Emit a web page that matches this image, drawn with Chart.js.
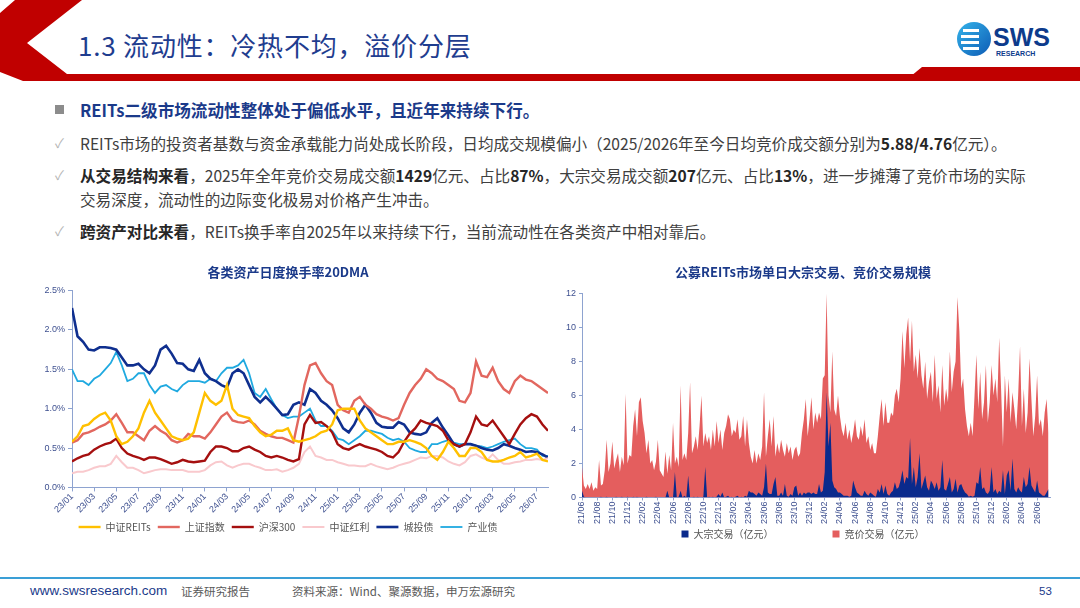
<!DOCTYPE html>
<html lang="zh-CN">
<head>
<meta charset="utf-8">
<title>1.3 流动性：冷热不均，溢价分层</title>
<script src="https://cdn.jsdelivr.net/npm/chart.js@4.4.1/dist/chart.umd.min.js"></script>
<style>
  html, body { margin: 0; padding: 0; background: #fff; }
  body { width: 1080px; height: 608px; position: relative; overflow: hidden;
         font-family: "Noto Sans CJK SC", "Noto Sans", sans-serif; }
  .abs { position: absolute; }
  .title { left: 78px; top: 26px; font-size: 26px; letter-spacing: 0.8px; color: #1f3d8f; white-space: nowrap; }
  .point { left: 80px; font-size: 15.6px; color: #404040; white-space: nowrap; line-height: 24px; }
  .point b { color: #262626; }
  .lead { color: #1b3a8a; font-weight: bold; font-size: 16.6px; }
  .mark { left: 55px; color: #b5b5b5; font-size: 13px; line-height: 24px; }
  .sq { left: 55px; top: 105px; width: 9px; height: 9px; background: #8c8c8c; }
  .chart-box { position: absolute; }
  .footline { left: 0; top: 577px; width: 1080px; height: 2px; background: #3a9fd6; }
  .foot { top: 583px; font-size: 11.5px; line-height: 16px; white-space: nowrap; }
</style>
</head>
<body>

<svg class="abs" style="left:0;top:0" width="1080" height="90">
  <polygon points="15,0 82,0 27,43 67,74 1080,74 1080,81 23,81 0,72 0,13" fill="#c00000"/>
  <polygon points="905,81 922,67 1080,67 1080,81" fill="#c00000"/>
</svg>
<div class="abs title">1.3 流动性：冷热不均，溢价分层</div>

<svg class="abs" style="left:955px;top:20px" width="110" height="40">
  <defs>
    <linearGradient id="lg" x1="0" y1="0" x2="1" y2="1">
      <stop offset="0" stop-color="#35b4ea"/>
      <stop offset="1" stop-color="#0d5bb5"/>
    </linearGradient>
  </defs>
  <circle cx="19" cy="19" r="17" fill="url(#lg)"/>
  <rect x="8" y="9" width="16" height="3" fill="#fff"/>
  <rect x="6" y="15" width="18" height="3" fill="#fff"/>
  <rect x="6" y="21" width="18" height="3" fill="#fff"/>
  <rect x="8" y="27" width="16" height="3" fill="#fff"/>
  <text x="38" y="26" font-family="Liberation Sans, Arial, sans-serif" font-weight="bold" font-size="25" fill="#0d3b8c">SWS</text>
  <text x="41" y="36" font-family="Liberation Sans, Arial, sans-serif" font-weight="bold" font-size="7" fill="#0d3b8c">RESEARCH</text>
</svg>

<div class="abs sq"></div>
<div class="abs point lead" style="top:98px">REITs二级市场流动性整体处于偏低水平，且近年来持续下行。</div>

<div class="abs mark" style="top:131px">✓</div>
<div class="abs point" style="top:131px">REITs市场的投资者基数与资金承载能力尚处成长阶段，日均成交规模偏小（2025/2026年至今日均竞价成交额分别为<b>5.88/4.76</b>亿元）。</div>

<div class="abs mark" style="top:163px">✓</div>
<div class="abs point" style="top:163px"><b>从交易结构来看</b>，2025年全年竞价交易成交额<b>1429</b>亿元、占比<b>87%</b>，大宗交易成交额<b>207</b>亿元、占比<b>13%</b>，进一步摊薄了竞价市场的实际</div>
<div class="abs point" style="top:187px">交易深度，流动性的边际变化极易对价格产生冲击。</div>

<div class="abs mark" style="top:219px">✓</div>
<div class="abs point" style="top:219px"><b>跨资产对比来看</b>，REITs换手率自2025年以来持续下行，当前流动性在各类资产中相对靠后。</div>

<div class="chart-box" style="left:28px;top:262px;width:528px;height:280px"><canvas id="turnoverChart"></canvas></div>
<div class="chart-box" style="left:556px;top:262px;width:512px;height:287px"><canvas id="tradeChart"></canvas></div>

<div class="abs footline"></div>
<div class="abs foot" style="left:30px;color:#1b3a8a;font-family:'Liberation Sans',sans-serif;font-size:13.5px">www.swsresearch.com</div>
<div class="abs foot" style="left:181px;color:#595959">证券研究报告</div>
<div class="abs foot" style="left:292px;color:#595959">资料来源：Wind、聚源数据，申万宏源研究</div>
<div class="abs foot" style="left:1039px;color:#1b3a8a;font-family:'Liberation Sans',sans-serif">53</div>

<script>
// ---- 各类资产日度换手率20DMA (%, every half month from 23/01) ----
const turnoverTicks = ['23/01','23/03','23/05','23/07','23/09','23/11','24/01','24/03','24/05','24/07','24/09',
  '24/11','25/01','25/03','25/05','25/07','25/09','25/11','26/01','26/03','26/05','26/07'];

const reitsIdx = [0.58,0.65,0.78,0.8,0.87,0.92,0.95,0.85,0.65,0.55,
  0.58,0.65,0.75,0.95,1.1,0.95,0.85,0.75,0.65,0.62,
  0.6,0.62,0.7,0.95,1.2,1.1,1.05,1.1,1.3,1.0,
  0.92,0.9,0.88,0.78,0.7,0.65,0.67,0.72,0.72,0.75,
  0.6,0.58,0.6,0.62,0.65,0.7,0.72,0.8,0.98,1.0,
  1.0,1.0,0.85,0.75,0.7,0.65,0.6,0.55,0.55,0.58,
  0.58,0.6,0.58,0.55,0.5,0.4,0.35,0.45,0.58,0.5,
  0.4,0.4,0.5,0.5,0.45,0.35,0.33,0.33,0.35,0.38,
  0.4,0.45,0.38,0.4,0.43,0.35,0.33];
const sseIdx = [0.57,0.6,0.68,0.7,0.73,0.77,0.8,0.85,0.93,0.82,
  0.7,0.7,0.65,0.6,0.72,0.78,0.72,0.68,0.6,0.57,
  0.6,0.68,0.65,0.65,0.62,0.7,0.8,0.9,0.95,0.85,
  0.83,0.82,0.85,0.8,0.72,0.68,0.65,0.63,0.63,0.6,
  0.57,0.9,1.3,1.55,1.58,1.45,1.35,1.3,1.05,0.98,
  0.95,1.1,1.15,1.05,1.0,0.93,0.9,0.88,0.85,0.88,
  1.05,1.2,1.3,1.38,1.5,1.45,1.38,1.35,1.3,1.25,
  1.1,1.08,1.2,1.6,1.42,1.4,1.52,1.35,1.25,1.2,
  1.35,1.42,1.37,1.35,1.3,1.25,1.2];
const hs300 = [0.33,0.37,0.4,0.42,0.48,0.52,0.55,0.57,0.62,0.5,
  0.43,0.4,0.38,0.35,0.38,0.38,0.36,0.33,0.3,0.32,
  0.35,0.33,0.32,0.33,0.34,0.45,0.52,0.52,0.5,0.46,
  0.46,0.5,0.52,0.48,0.45,0.4,0.38,0.4,0.38,0.35,
  0.33,0.36,0.8,0.92,0.82,0.83,0.78,0.7,0.55,0.5,
  0.48,0.52,0.55,0.52,0.5,0.48,0.45,0.4,0.38,0.45,
  0.58,0.68,0.75,0.85,0.82,0.8,0.78,0.72,0.6,0.55,
  0.52,0.55,0.7,0.9,0.8,0.78,0.85,0.75,0.65,0.55,
  0.68,0.8,0.88,0.93,0.9,0.8,0.72];
const dividendIdx = [0.18,0.2,0.2,0.22,0.25,0.27,0.27,0.3,0.4,0.32,
  0.25,0.25,0.22,0.18,0.2,0.22,0.23,0.23,0.22,0.22,
  0.22,0.2,0.2,0.2,0.22,0.28,0.32,0.33,0.28,0.25,
  0.28,0.3,0.3,0.27,0.25,0.22,0.22,0.23,0.2,0.22,
  0.25,0.3,0.45,0.52,0.4,0.38,0.35,0.35,0.32,0.3,
  0.28,0.28,0.27,0.27,0.3,0.27,0.25,0.23,0.25,0.28,
  0.3,0.32,0.35,0.38,0.37,0.4,0.4,0.38,0.33,0.3,
  0.28,0.32,0.4,0.42,0.38,0.35,0.42,0.35,0.3,0.3,
  0.32,0.33,0.35,0.35,0.36,0.35,0.37];
const lgfvBond = [2.28,1.92,1.85,1.75,1.74,1.78,1.78,1.77,1.75,1.65,
  1.55,1.55,1.57,1.5,1.45,1.55,1.75,1.8,1.7,1.58,
  1.57,1.5,1.48,1.62,1.45,1.38,1.35,1.3,1.27,1.45,
  1.5,1.45,1.3,1.15,1.08,1.15,1.08,1.0,0.92,0.93,
  1.05,1.08,1.05,1.25,1.2,1.1,1.05,0.98,0.88,0.75,
  0.7,0.8,0.95,1.05,0.95,0.82,0.77,0.76,0.76,0.83,
  0.8,0.7,0.68,0.67,0.7,0.82,0.88,0.76,0.66,0.55,
  0.52,0.55,0.55,0.53,0.5,0.48,0.47,0.5,0.55,0.53,
  0.5,0.48,0.45,0.46,0.45,0.42,0.38];
const industrialBond = [1.5,1.35,1.35,1.3,1.38,1.42,1.5,1.58,1.72,1.55,
  1.35,1.38,1.45,1.45,1.3,1.2,1.28,1.3,1.25,1.22,
  1.3,1.35,1.35,1.35,1.33,1.38,1.35,1.45,1.52,1.52,
  1.55,1.62,1.45,1.2,1.15,1.25,1.12,1.0,0.92,0.88,
  0.9,0.9,0.95,1.0,0.85,0.78,0.78,0.72,0.62,0.6,
  0.55,0.6,0.65,0.72,0.72,0.7,0.68,0.63,0.6,0.62,
  0.58,0.5,0.47,0.45,0.45,0.55,0.55,0.58,0.6,0.57,
  0.55,0.55,0.55,0.53,0.52,0.5,0.52,0.55,0.58,0.6,
  0.62,0.55,0.5,0.5,0.48,0.4,0.4];

// ---- 公募REITs单日大宗/竞价交易 (亿元, four points per month from 21/06) ----
const tradeTicks = ['21/06','21/08','21/10','21/12','22/02','22/04','22/06','22/08','22/10','22/12',
  '23/02','23/04','23/06','23/08','23/10','23/12','24/02','24/04','24/06','24/08','24/10','24/12',
  '25/02','25/04','25/06','25/08','25/10','25/12','26/02','26/04','26/06'];

const blockTrade = [
  0.4,0.05,0,0, 0,0,0,0, 0,0,0.05,0, 0,0.05,0,0, 0,0,0.05,0, 0,0.05,0,0, 0.05,0,0,0.05,
  0,0.05,0,0, 0,0,0.05,0, 0,0,0,0.05, 0,0,0,0, 0,0.4,0,0.05, 0,1.5,0,0.05, 0.4,0,0.1,0,
  1.3,0,0,0.05, 0,0.05,0,0, 0.05,1.8,0,0.05, 0,0.05,0,0.05, 0.2,0.05,0.3,0, 0.05,0.1,0,0.05,
  0,0.05,0.1,0, 0.05,0,0.1,0.05, 0.4,0.3,0.3,0.2, 0.1,0.3,0.2,0.1, 0.6,2.0,0.3,0.2, 0.2,0.8,1.2,0.1,
  0.1,0.3,0.1,0.8, 0.1,0.05,0.2,0.1, 0.6,0.7,0.1,0.3, 0.1,0.3,0.2,0.3, 0.3,0.2,0.3,0.2, 0.2,0.8,0.3,0.4,
  1.5,6.2,3.0,4.4, 1.0,0.6,0.5,0.3, 0.3,0.2,0.1,0.1, 0.1,0.05,0.1,1.0, 0.6,0.3,0.2,0.1, 0.1,0.4,0.2,0.1,
  0.3,0.2,0.1,0.05, 0.5,0.3,0.8,0.2, 0.7,0.2,0.1,0.3, 0.4,0.9,0.5,0.6, 1.0,1.6,0.8,1.2, 1.1,3.5,0.8,1.8,
  0.6,1.2,2.6,0.5, 0.9,1.3,0.6,0.4, 1.0,0.8,0.5,0.9, 0.4,0.6,2.2,0.5, 0.4,0.8,1.2,0.3, 0.5,1.1,0.3,0.7,
  0.8,0.5,0.3,0.2, 0.05,0.1,0.05,0.1, 0.9,0.8,1.8,0.5, 0.6,0.3,0.2,0.4, 1.8,0.3,0.5,0.2, 0.4,0.3,1.6,0.2,
  1.3,1.6,0.4,2.3, 0.5,0.3,0.6,0.4, 0.3,1.2,0.6,0.8, 1.8,0.7,0.5,0.3, 1.0,0.3,0.2,0.1, 0.1,0.3,0.5];
const auctionTrade = [
  1.8,0.7,0.5,0.8, 0.5,0.9,0.4,0.6, 0.5,2.2,0.7,0.8, 1.6,3.4,1.5,2.0, 3.3,1.7,2.2,2.6, 1.5,2.4,1.9,6.1, 2.0,2.5,2.4,4.2,
  5.2,3.6,5.6,5.9, 4.5,3.8,2.6,3.4, 2.0,2.2,1.6,2.1, 3.4,1.6,1.4,1.2, 2.7,1.4,2.5,1.6, 4.4,2.0,2.4,1.8, 6.6,2.2,2.6,2.2,
  3.8,6.8,2.6,3.0, 3.6,2.8,4.2,6.0, 3.0,3.8,3.2,3.6, 2.8,4.0,3.0,4.5, 3.2,4.0,2.8,3.8, 4.2,4.9,4.6,3.6,
  4.0,3.8,4.6,3.4, 3.6,4.8,3.0,4.6, 3.2,2.4,2.0,2.8, 2.0,2.6,2.2,3.0, 6.2,2.4,3.6,4.6, 3.0,4.8,2.4,3.2,
  2.6,3.4,2.8,2.4, 3.2,2.6,3.0,2.2, 2.8,3.0,2.4,2.6, 3.8,4.6,5.8,3.6, 4.6,5.9,4.0,5.0, 4.4,5.0,4.6,7.0,
  7.2,12.0,6.0,5.0, 8.6,5.2,4.8,6.0, 4.8,4.0,3.6,4.4, 3.4,4.0,3.2,3.8, 4.6,3.6,3.4,4.2, 3.6,4.6,3.2,3.6,
  2.8,3.2,2.6,2.6, 3.6,4.8,5.8,4.2, 5.6,4.4,4.4,5.0, 4.8,6.0,6.4,5.6, 7.0,9.8,7.6,9.6, 10.6,8.0,10.4,7.4,
  8.4,7.0,8.8,7.2, 6.4,8.0,5.8,6.8, 7.4,5.6,8.4,5.8, 6.6,5.0,7.8,5.4, 6.4,5.6,8.6,6.2, 7.4,8.0,11.8,9.8,
  6.4,7.0,5.2,4.2, 3.6,4.4,3.6,6.0, 8.4,5.2,7.4,4.6, 5.6,7.8,4.4,5.6, 7.8,6.0,7.0,5.6, 9.4,6.4,3.0,7.2,
  5.0,7.0,4.4,6.2, 5.2,4.0,6.0,8.9, 4.2,6.4,3.8,5.0, 8.2,5.8,3.6,4.8, 7.2,4.2,4.6,3.6, 5.0,5.8,3.8];

const cjk = '"Noto Sans CJK SC", "Noto Sans", sans-serif';
const latin = '"Liberation Sans", Arial, sans-serif';
const axisColor = '#8ea3d0';
const tickColor = '#3f5190';
const navy = '#1b3a8a';

Chart.defaults.font.family = cjk;
Chart.defaults.animation = false;

function halfMonth(values) {
  return values.map((v, i) => ({ x: i / 2, y: v }));
}
function weekly(values) {
  return values.map((v, i) => ({ x: i / 4, y: v }));
}
function lineSet(label, values, color, width) {
  return { label, data: halfMonth(values), borderColor: color, backgroundColor: color,
           borderWidth: width, pointRadius: 0, tension: 0, fill: false };
}

new Chart(document.getElementById('turnoverChart'), {
  type: 'line',
  data: {
    datasets: [
      lineSet('中证REITs', reitsIdx, '#ffc000', 2.4),
      lineSet('上证指数', sseIdx, '#e2675f', 2.4),
      lineSet('沪深300', hs300, '#a50f0f', 2.4),
      lineSet('中证红利', dividendIdx, '#f9c9cd', 2.0),
      lineSet('城投债', lgfvBond, '#0f2f8f', 2.6),
      lineSet('产业债', industrialBond, '#1fa9e0', 1.8)
    ]
  },
  options: {
    responsive: true,
    maintainAspectRatio: false,
    layout: { padding: { left: 0, right: 8, top: 0, bottom: 0 } },
    plugins: {
      title: { display: true, text: '各类资产日度换手率20DMA', color: navy,
               font: { size: 13, weight: 'bold' }, padding: { top: 2, bottom: 11 } },
      legend: { position: 'bottom',
                labels: { usePointStyle: true, pointStyle: 'line', pointStyleWidth: 22,
                          color: '#555', font: { size: 10 }, padding: 7, boxHeight: 10 } },
      tooltip: { enabled: false }
    },
    scales: {
      x: {
        type: 'linear', min: 0, max: 43,
        afterBuildTicks: axis => { axis.ticks = turnoverTicks.map((_, i) => ({ value: i * 2 })); },
        ticks: { autoSkip: false, minRotation: 45, maxRotation: 45, color: tickColor,
                 font: { size: 9, family: latin }, padding: 0,
                 callback: v => turnoverTicks[v / 2] },
        grid: { drawOnChartArea: false, tickLength: 4, color: axisColor },
        border: { color: axisColor }
      },
      y: {
        min: 0, max: 2.5,
        afterFit: axis => { axis.width = 44; },
        ticks: { stepSize: 0.5, color: tickColor, font: { size: 9, family: latin },
                 callback: v => v.toFixed(1) + '%' },
        grid: { drawOnChartArea: false, tickLength: 4, color: axisColor },
        border: { color: axisColor }
      }
    }
  }
});

new Chart(document.getElementById('tradeChart'), {
  type: 'line',
  data: {
    datasets: [
      { label: '大宗交易（亿元）', data: weekly(blockTrade), borderWidth: 0, pointRadius: 0,
        backgroundColor: '#0a2a8c', borderColor: '#0a2a8c', fill: 'origin', tension: 0 },
      { label: '竞价交易（亿元）', data: weekly(auctionTrade), borderWidth: 0, pointRadius: 0,
        backgroundColor: '#e45e5e', borderColor: '#e45e5e', fill: 'origin', tension: 0 }
    ]
  },
  options: {
    responsive: true,
    maintainAspectRatio: false,
    layout: { padding: { left: 0, right: 18, top: 0, bottom: 0 } },
    plugins: {
      title: { display: true, text: '公募REITs市场单日大宗交易、竞价交易规模', color: navy,
               font: { size: 13, weight: 'bold' }, padding: { top: 2, bottom: 14 } },
      legend: { position: 'bottom',
                labels: { boxWidth: 7, boxHeight: 7, color: '#555', font: { size: 10 }, padding: 4,
                          // wide gap between the two legend entries, as in the source
                          generateLabels: chart => Chart.defaults.plugins.legend.labels.generateLabels(chart)
                            .map((item, i) => i === 0 ? { ...item, text: item.text + '\u3000'.repeat(6) } : item) } },
      tooltip: { enabled: false }
    },
    scales: {
      x: {
        type: 'linear', min: 0, max: 61.7,
        afterBuildTicks: axis => { axis.ticks = tradeTicks.map((_, i) => ({ value: i * 2 })); },
        ticks: { autoSkip: false, minRotation: 90, maxRotation: 90, color: tickColor,
                 font: { size: 9, family: latin }, padding: 1,
                 callback: v => tradeTicks[v / 2] },
        grid: { drawOnChartArea: false, tickLength: 3, color: axisColor },
        border: { color: axisColor }
      },
      y: {
        min: 0, max: 12,
        afterFit: axis => { axis.width = 26; },
        ticks: { stepSize: 2, color: tickColor, font: { size: 9, family: latin } },
        grid: { drawOnChartArea: false, tickLength: 3, color: axisColor },
        border: { color: axisColor }
      }
    }
  }
});
</script>
</body>
</html>
